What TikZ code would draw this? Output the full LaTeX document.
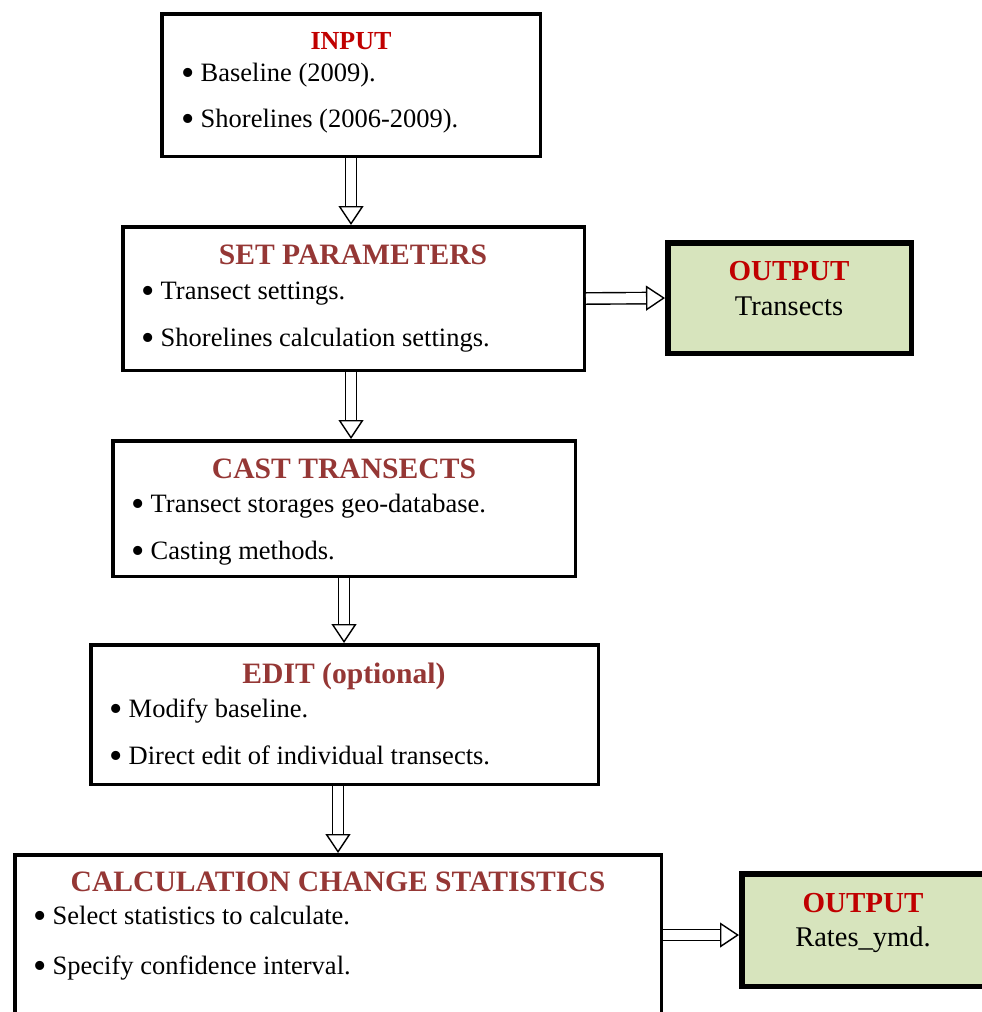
\documentclass[tikz,border=0pt]{standalone}
\usepackage{fontspec}
\setmainfont{Liberation Serif}
\usetikzlibrary{arrows.meta}
\definecolor{titlered}{HTML}{C00000}
\definecolor{titlebrown}{HTML}{953735}
\definecolor{outgreen}{HTML}{D7E4BD}

\newcommand{\dotmark}{\makebox[19.5pt][l]{\raisebox{-4.5pt}{\fontsize{38}{30}\selectfont\textbullet}}}

\tikzset{
  box/.style={draw, line width=3.5pt, anchor=north west, inner sep=0pt},
  outbox/.style={draw, line width=5.5pt, fill=outgreen, anchor=north west, inner sep=0pt},
  item/.style={anchor=base west, inner sep=0pt, font=\fontsize{26.5}{30}\selectfont},
  head/.style={anchor=base, inner sep=0pt, font=\fontsize{29.6}{32}\selectfont\bfseries, text=titlebrown},
  flow/.style={double, double distance=10pt, line width=1.4pt, -{Triangle[open,length=19pt,width=25pt]}}
}

\begin{document}
\begin{tikzpicture}[x=1pt, y=-1pt]
\useasboundingbox (0,0) rectangle (982,1012);

% boxes
\node[box, minimum width=378.5pt, minimum height=142.5pt] (input) at (160,12) {};
\node[box, minimum width=461.5pt, minimum height=143.5pt] (setp) at (121,225) {};
\node[box, minimum width=462.5pt, minimum height=135.5pt] (cast) at (111,439) {};
\node[box, minimum width=507.5pt, minimum height=139.5pt] (edit) at (89,643) {};
\node[box, minimum width=646.5pt, minimum height=190pt] (calc) at (13,853) {};
\node[outbox, minimum width=243.5pt, minimum height=110.5pt] (out1) at (665,240) {};
\node[outbox, minimum width=255.5pt, minimum height=112.5pt] (out2) at (739,871) {};

% texts
\node[head, text=titlered, font=\fontsize{26}{30}\selectfont\bfseries] (inhead) at (351,49) {INPUT};
\node[item] (in1) at (181,81) {\dotmark Baseline (2009).};
\node[item] (in2) at (181,127) {\dotmark Shorelines (2006-2009).};

\node[head] (sethead) at (353,264) {SET PARAMETERS};
\node[item] (set1) at (141,299) {\dotmark Transect settings.};
\node[item] (set2) at (141,346) {\dotmark Shorelines calculation settings.};

\node[head] (casthead) at (344,478) {CAST TRANSECTS};
\node[item] (cast1) at (131,512) {\dotmark Transect storages geo-database.};
\node[item] (cast2) at (131,559) {\dotmark Casting methods.};

\node[head] (edithead) at (344,683) {EDIT (optional)};
\node[item] (edit1) at (109,717) {\dotmark Modify baseline.};
\node[item] (edit2) at (109,764) {\dotmark Direct edit of individual transects.};

\node[head] (calchead) at (338,891) {CALCULATION CHANGE STATISTICS};
\node[item] (calc1) at (33,924) {\dotmark Select statistics to calculate.};
\node[item] (calc2) at (33,974) {\dotmark Specify confidence interval.};

\node[head, text=titlered, font=\fontsize{29}{32}\selectfont\bfseries] (out1head) at (789,280) {OUTPUT};
\node[item, anchor=base, font=\fontsize{28.5}{32}\selectfont] (out1txt) at (789,315) {Transects};
\node[head, text=titlered, font=\fontsize{29}{32}\selectfont\bfseries] (out2head) at (863,912) {OUTPUT};
\node[item, anchor=base, font=\fontsize{28.5}{32}\selectfont] (out2txt) at (863,946) {Rates\_ymd.};

% connectors
\coordinate (setout) at ([xshift=-2.5pt]setp.south);
\coordinate (rateend) at ([yshift=-5pt]out2.west);
\draw[flow] (input.south) -- (input.south |- setp.north);
\draw[flow] (setout) -- (setout |- cast.north);
\draw[flow] (cast.south) -- (cast.south |- edit.north);
\draw[flow] (calc.north |- edit.south) -- (calc.north);
\draw[flow] (setp.east) -- (out1.west);
\draw[flow] (calc.east |- rateend) -- (rateend);
\end{tikzpicture}
\end{document}
